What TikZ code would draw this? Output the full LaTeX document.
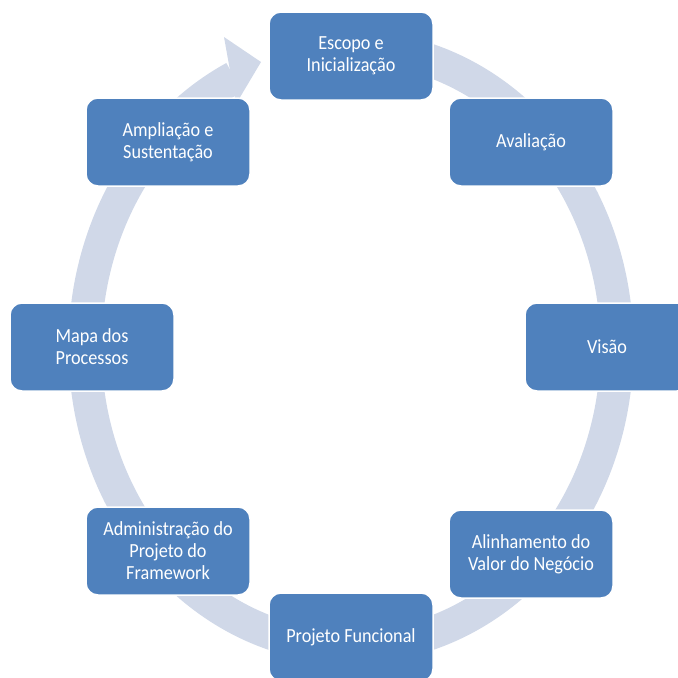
\documentclass[tikz,border=0pt]{standalone}
\usepackage{fontspec}
\setmainfont{Carlito}[FakeStretch=0.91]
\usetikzlibrary{positioning}

\definecolor{boxblue}{HTML}{4F81BD}
\definecolor{ringgray}{HTML}{D0D8E8}

\begin{document}
\begin{tikzpicture}[x=1pt,y=-1pt,
    box/.style={rectangle,rounded corners=12pt,fill=boxblue,draw=white,
      line width=1.5pt,text=white,align=center,minimum width=164pt,
      minimum height=88pt,inner sep=0pt,
      font=\fontsize{20}{22}\selectfont},
    ring/.style={draw=ringgray,line width=33pt}]

  \useasboundingbox (0,0) rectangle (678,678);
  \clip (0,0) rectangle (678,678);

  % the cycle behind the boxes
  \draw[ring] (351,47) arc[start angle=90,end angle=-244,
    x radius=266pt,y radius=300pt];
  \fill[ringgray] (224,37) -- (261,62) -- (236,104) -- cycle;

  \node[box] (esc) at (351,56) {Escopo e\\Inicialização};
  \node[box] (aval) at (531,142) {Avaliação};
  \node[box] (vis) at (607,347) {Visão};
  \node[box] (alin) at (531,554) {Alinhamento do\\Valor do Negócio};
  \node[box] (proj) at (351,637) {Projeto Funcional};
  \node[box] (adm) at (168,551) {Administração do\\Projeto do\\Framework};
  \node[box] (mapa) at (92,347) {Mapa dos\\Processos};
  \node[box] (ampl) at (168,142) {Ampliação e\\Sustentação};

\end{tikzpicture}
\end{document}
